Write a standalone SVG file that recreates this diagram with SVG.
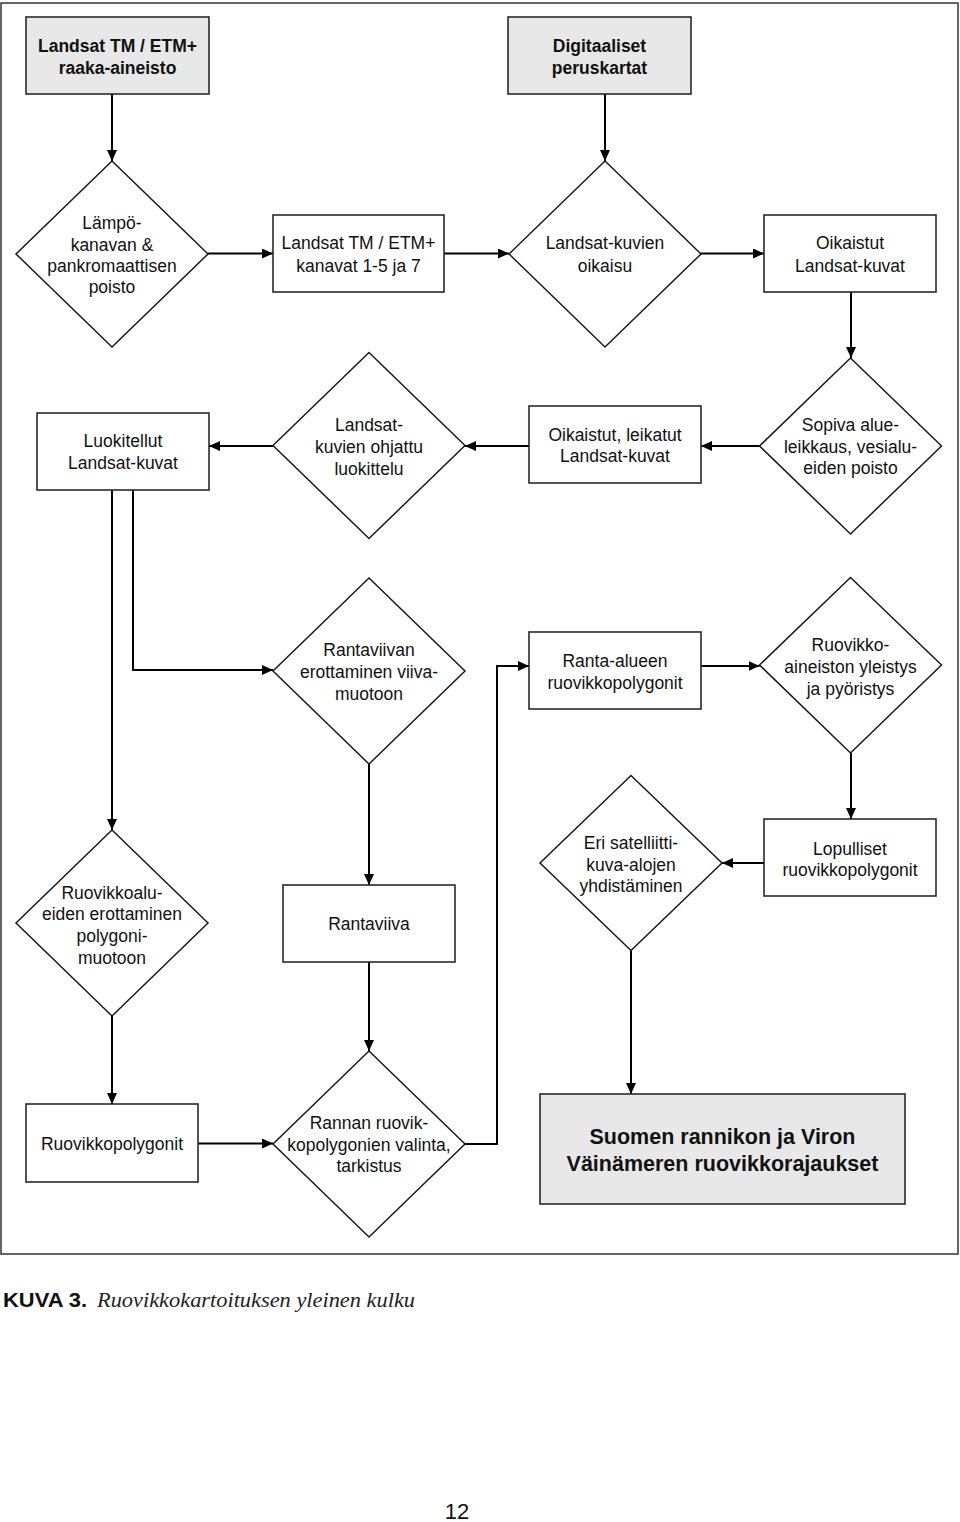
<svg xmlns="http://www.w3.org/2000/svg" width="960" height="1522" viewBox="0 0 960 1522">
<style>
.box{fill:#ffffff;stroke:#2a2a2a;stroke-width:1.6}
.grey{fill:#e8e8e8}
.dia{fill:#ffffff;stroke:#1a1a1a;stroke-width:1.5}
.t{font-family:"Liberation Sans",Arial,sans-serif;font-size:17.5px;fill:#111;text-anchor:middle}
.b{font-weight:bold}
.big{font-size:21.5px}
.con{fill:none;stroke:#000;stroke-width:2;marker-end:url(#ah)}
</style>
<defs>
<marker id="ah" markerUnits="userSpaceOnUse" markerWidth="12" markerHeight="11" refX="11" refY="5" orient="auto">
<path d="M0,0 L11,5 L0,10 z" fill="#000"/>
</marker>
</defs>
<rect x="1" y="3" width="957" height="1251" fill="none" stroke="#333" stroke-width="1.5"/>

<g id="connectors">
<path class="con" d="M112,94 V161"/>
<path class="con" d="M605,94 V161"/>
<path class="con" d="M208,253.5 H273"/>
<path class="con" d="M444,253.5 H509"/>
<path class="con" d="M701,253.5 H764"/>
<path class="con" d="M851,292 V358"/>
<path class="con" d="M759.5,446 H701"/>
<path class="con" d="M529,446 H465"/>
<path class="con" d="M273,446 H209"/>
<path class="con" d="M112,490 V830"/>
<path class="con" d="M133,490 V670 H273"/>
<path class="con" d="M369,764 V885"/>
<path class="con" d="M369,962 V1051"/>
<path class="con" d="M112,1016 V1104"/>
<path class="con" d="M198,1143.5 H273"/>
<path class="con" d="M465,1144 H497 V666 H529"/>
<path class="con" d="M701,666 H759.5"/>
<path class="con" d="M851,753 V819"/>
<path class="con" d="M764,863 H722"/>
<path class="con" d="M631,950.5 V1094"/>
</g>

<g id="n1">
<rect class="box grey" x="26" y="17" width="183" height="77"/>
<text class="t b" x="117.5" y="52">Landsat TM / ETM+</text>
<text class="t b" x="117.5" y="74">raaka-aineisto</text>
</g>
<g id="n2">
<rect class="box grey" x="508" y="17" width="183" height="77"/>
<text class="t b" x="599.5" y="52">Digitaaliset</text>
<text class="t b" x="599.5" y="74">peruskartat</text>
</g>
<g id="d1">
<polygon class="dia" points="112,161 208,254 112,347 16,254"/>
<text class="t" x="112" y="229">Lämpö-</text>
<text class="t" x="112" y="250.5">kanavan &amp;</text>
<text class="t" x="112" y="272">pankromaattisen</text>
<text class="t" x="112" y="293">poisto</text>
</g>
<g id="n3">
<rect class="box" x="273" y="215" width="171" height="77"/>
<text class="t" x="358.5" y="249">Landsat TM / ETM+</text>
<text class="t" x="358.5" y="271.5">kanavat 1-5 ja 7</text>
</g>
<g id="d2">
<polygon class="dia" points="605,161 701,254 605,347 509,254"/>
<text class="t" x="605" y="249">Landsat-kuvien</text>
<text class="t" x="605" y="272">oikaisu</text>
</g>
<g id="n4">
<rect class="box" x="764" y="215" width="172" height="77"/>
<text class="t" x="850" y="249">Oikaistut</text>
<text class="t" x="850" y="272">Landsat-kuvat</text>
</g>
<g id="d3">
<polygon class="dia" points="850.5,358 941.5,446 850.5,534 759.5,446"/>
<text class="t" x="850.5" y="431">Sopiva alue-</text>
<text class="t" x="850.5" y="453">leikkaus, vesialu-</text>
<text class="t" x="850.5" y="474">eiden poisto</text>
</g>
<g id="n5">
<rect class="box" x="529" y="406" width="172" height="77"/>
<text class="t" x="615" y="440.5">Oikaistut, leikatut</text>
<text class="t" x="615" y="462">Landsat-kuvat</text>
</g>
<g id="d4">
<polygon class="dia" points="369,352.5 465,445.5 369,538.5 273,445.5"/>
<text class="t" x="369" y="431">Landsat-</text>
<text class="t" x="369" y="453">kuvien ohjattu</text>
<text class="t" x="369" y="474.5">luokittelu</text>
</g>
<g id="n6">
<rect class="box" x="37" y="413" width="172" height="77"/>
<text class="t" x="123" y="446.5">Luokitellut</text>
<text class="t" x="123" y="468.5">Landsat-kuvat</text>
</g>
<g id="d5">
<polygon class="dia" points="369,578 465,671 369,764 273,671"/>
<text class="t" x="369" y="656">Rantaviivan</text>
<text class="t" x="369" y="678">erottaminen viiva-</text>
<text class="t" x="369" y="699.5">muotoon</text>
</g>
<g id="n7">
<rect class="box" x="529" y="632" width="172" height="77"/>
<text class="t" x="615" y="667">Ranta-alueen</text>
<text class="t" x="615" y="689">ruovikkopolygonit</text>
</g>
<g id="d6">
<polygon class="dia" points="850.5,577.5 941.5,665 850.5,753 759.5,665"/>
<text class="t" x="850.5" y="651">Ruovikko-</text>
<text class="t" x="850.5" y="673">aineiston yleistys</text>
<text class="t" x="850.5" y="694.5">ja pyöristys</text>
</g>
<g id="d7">
<polygon class="dia" points="112,830 208,923 112,1016 16,923"/>
<text class="t" x="112" y="898.5">Ruovikkoalu-</text>
<text class="t" x="112" y="920">eiden erottaminen</text>
<text class="t" x="112" y="942">polygoni-</text>
<text class="t" x="112" y="963.5">muotoon</text>
</g>
<g id="n8">
<rect class="box" x="283" y="885" width="172" height="77"/>
<text class="t" x="369" y="930">Rantaviiva</text>
</g>
<g id="d8">
<polygon class="dia" points="631,775.5 722,863 631,950.5 540,863"/>
<text class="t" x="631" y="849">Eri satelliitti-</text>
<text class="t" x="631" y="871">kuva-alojen</text>
<text class="t" x="631" y="892">yhdistäminen</text>
</g>
<g id="n9">
<rect class="box" x="764" y="819" width="172" height="77"/>
<text class="t" x="850" y="854.5">Lopulliset</text>
<text class="t" x="850" y="876">ruovikkopolygonit</text>
</g>
<g id="n10">
<rect class="box" x="26" y="1104" width="172" height="78"/>
<text class="t" x="112" y="1150">Ruovikkopolygonit</text>
</g>
<g id="d9">
<polygon class="dia" points="369,1051 465,1144 369,1237 273,1144"/>
<text class="t" x="369" y="1129">Rannan ruovik-</text>
<text class="t" x="369" y="1150.5">kopolygonien valinta,</text>
<text class="t" x="369" y="1172">tarkistus</text>
</g>
<g id="n11">
<rect class="box grey" x="540" y="1094" width="365" height="110"/>
<text class="t b big" x="722.5" y="1144">Suomen rannikon ja Viron</text>
<text class="t b big" x="722.5" y="1171">Väinämeren ruovikkorajaukset</text>
</g>

<text x="3" y="1307" font-family="Liberation Sans, Arial, sans-serif" font-weight="bold" font-size="20" fill="#111" textLength="84" lengthAdjust="spacingAndGlyphs">KUVA 3.</text>
<text x="97" y="1307" font-family="Liberation Serif, Times New Roman, serif" font-style="italic" font-size="22" fill="#222" textLength="318" lengthAdjust="spacingAndGlyphs">Ruovikkokartoituksen yleinen kulku</text>
<text x="457" y="1519" font-family="Liberation Sans, Arial, sans-serif" font-size="22" fill="#111" text-anchor="middle">12</text>
</svg>
